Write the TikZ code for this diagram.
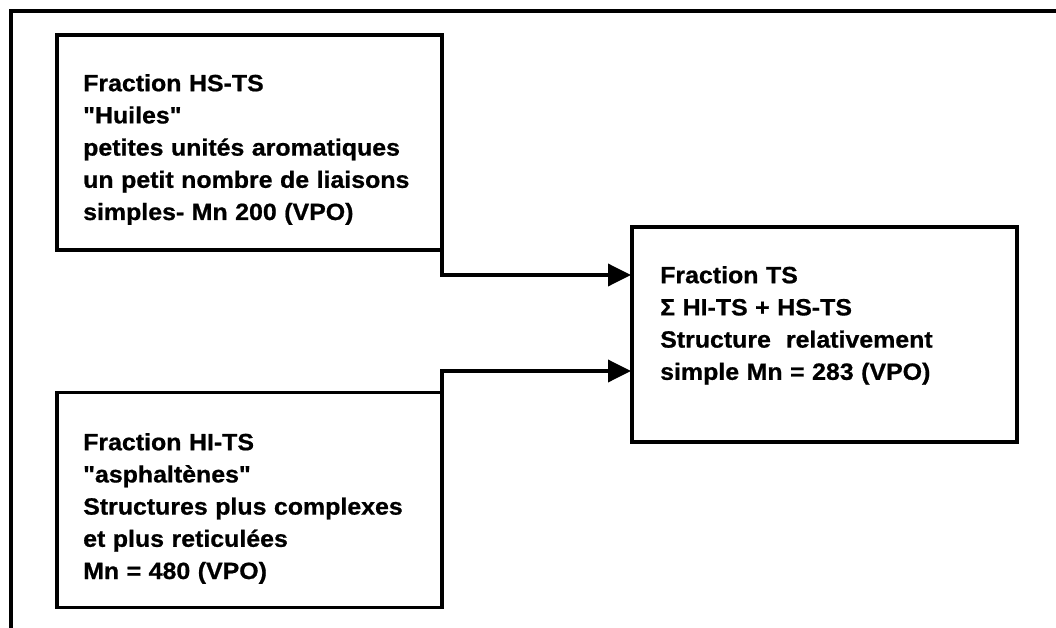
\documentclass[tikz,border=0pt]{standalone}
\usepackage{fontspec}
\setmainfont{Liberation Sans}[Ligatures=TeXOff, FakeStretch=1.06, BoldFeatures={FakeBold=0.8}]
\usetikzlibrary{arrows.meta}
\newcommand\myboxfont{\bfseries\fontsize{23.5}{32.2}\selectfont\spaceskip=7.5pt plus 1pt\relax}
\begin{document}
\begin{tikzpicture}[x=1pt,y=-1pt,
  box/.style={draw, line width=3.6pt, minimum width=385pt, minimum height=215pt, inner sep=0pt, outer sep=0pt},
  txt/.style={anchor=north west, inner sep=0pt, align=left, font=\myboxfont},
  arr/.style={line width=3.6pt, -{Triangle[length=23pt,width=22pt]}},
  frame/.style={line width=3.6pt}]
\useasboundingbox (0,0) rectangle (1056,628);
\draw[frame] (1056,11) -- (11,11) -- (11,628);
% boxes
\node[box] (b1) at (249.5,142.5) {};
\node[box] (b2) at (249.5,500) {};
\node[box] (ts) at (824.5,334.5) {};
% texts
\node[txt] (t1) at (83,71) {\rule{0pt}{20pt}Fraction HS-TS\\"Huiles"\\petites unités aromatiques\\un petit nombre de liaisons\\simples- Mn 200 (VPO)};
\node[txt] (t2) at (83,430) {\rule{0pt}{20pt}Fraction HI-TS\\"asphaltènes"\\Structures plus complexes\\et plus reticulées\\Mn = 480 (VPO)};
\node[txt] (t3) at (660,263) {\rule{0pt}{20pt}Fraction TS\\Σ HI-TS + HS-TS\\Structure\ \ relativement\\simple Mn = 283 (VPO)};
% connectors
\coordinate (in1) at (631,275);
\coordinate (in2) at (631,371);
\draw[arr] (b1.south east) |- (in1);
\draw[arr] (b2.north east) |- (in2);
\end{tikzpicture}
\end{document}
